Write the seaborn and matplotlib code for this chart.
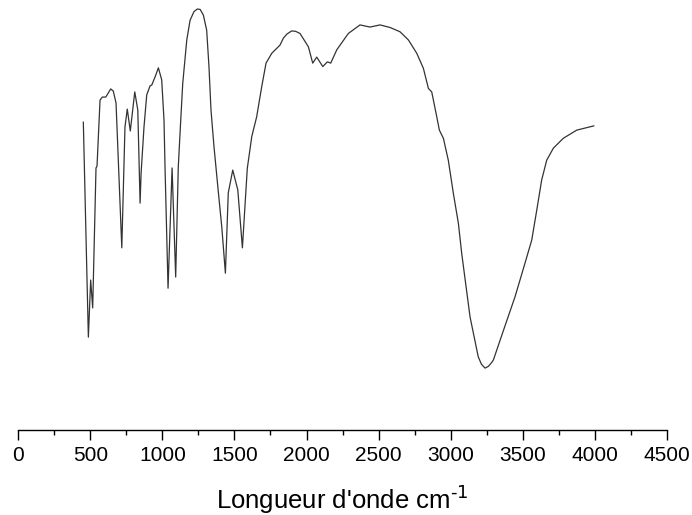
import numpy as np
import pandas as pd
import matplotlib
matplotlib.use("Agg")
import matplotlib.pyplot as plt
from matplotlib.ticker import MultipleLocator
import seaborn as sns

# spectre IR (nombre d'onde en cm-1, transmittance en %)
wavenumber = [451, 486, 502, 516, 539, 546, 567, 583, 607, 641, 659, 678,
              718, 740, 756, 777, 808, 829, 845, 852, 872, 891, 914, 926,
              949, 972, 995, 1011, 1018, 1039, 1067, 1092, 1110, 1127, 1141,
              1169, 1192, 1219, 1242, 1262, 1284, 1307, 1323, 1337, 1358,
              1388, 1412, 1437, 1457, 1488, 1523, 1555, 1589, 1620, 1654,
              1689, 1719, 1759, 1816, 1839, 1865, 1897, 1925, 1955, 2013,
              2043, 2071, 2113, 2145, 2168, 2210, 2290, 2371, 2441, 2510,
              2580, 2649, 2707, 2765, 2811, 2846, 2869, 2904, 2922, 2950,
              2984, 3019, 3054, 3077, 3135, 3192, 3214, 3239, 3262, 3285,
              3297, 3366, 3447, 3516, 3563, 3598, 3632, 3667, 3713, 3782,
              3875, 3995]
transmittance = [71.6, 21.5, 34.8, 28.3, 60.9, 61.3, 76.7, 77.4, 77.4, 79.3,
                 78.8, 76.0, 42.3, 70.4, 74.6, 69.5, 78.6, 74.4, 52.7, 59.7,
                 70.4, 77.9, 80.0, 80.2, 82.1, 84.2, 81.4, 72.0, 61.1, 32.9,
                 60.9, 35.5, 61.1, 72.0, 80.6, 90.7, 95.3, 97.3, 97.9, 97.8,
                 96.5, 93.0, 84.5, 74.4, 65.8, 55.3, 47.1, 36.4, 55.1, 60.4,
                 55.8, 42.3, 60.8, 68.2, 72.8, 79.8, 85.3, 87.6, 89.5, 91.1,
                 92.1, 92.8, 92.7, 92.2, 89.1, 85.3, 86.7, 84.5, 85.6, 85.3,
                 88.4, 92.2, 94.2, 93.7, 94.2, 93.6, 92.6, 90.7, 87.6, 84.1,
                 79.4, 78.6, 72.8, 69.7, 67.8, 62.7, 55.0, 48.0, 41.0, 26.2,
                 16.9, 15.2, 14.3, 14.7, 15.6, 16.2, 23.0, 30.9, 38.7, 44.1,
                 51.1, 58.1, 62.7, 65.5, 67.8, 69.7, 70.7]

df = pd.DataFrame({"wn": wavenumber, "T": transmittance})

sns.set_style("white")
plt.rcParams["font.family"] = ["Liberation Sans", "DejaVu Sans"]
plt.rcParams["mathtext.default"] = "regular"
plt.rcParams["text.color"] = "black"
plt.rcParams["axes.labelcolor"] = "black"
plt.rcParams["xtick.color"] = "black"

fig = plt.figure(figsize=(6.92, 5.15), dpi=100)
ax = fig.add_axes([0.0265, 0.166, 0.937, 0.834])

sns.lineplot(data=df, x="wn", y="T", ax=ax, color="#333333", linewidth=0.9,
             estimator=None)

ax.set_xlim(0, 4500)
ax.set_ylim(0, 100)
ax.xaxis.set_major_locator(MultipleLocator(500))
ax.xaxis.set_minor_locator(MultipleLocator(250))
ax.tick_params(axis="x", which="major", direction="out", length=7.2, width=1.0,
               color="black", labelcolor="black", labelsize=15, pad=5, bottom=True)
ax.tick_params(axis="x", which="minor", direction="out", length=3.6, width=1.0,
               color="black", bottom=True)
ax.set_yticks([])
for s in ["left", "top", "right"]:
    ax.spines[s].set_visible(False)
ax.spines["bottom"].set_color("black")
ax.spines["bottom"].set_linewidth(1.0)

ax.set_ylabel("")
ax.set_xlabel("Longueur d'onde cm$^{\\text{-1}}$", fontsize=18.5, labelpad=13,
              color="black")

fig.savefig("out.png", dpi=100)
